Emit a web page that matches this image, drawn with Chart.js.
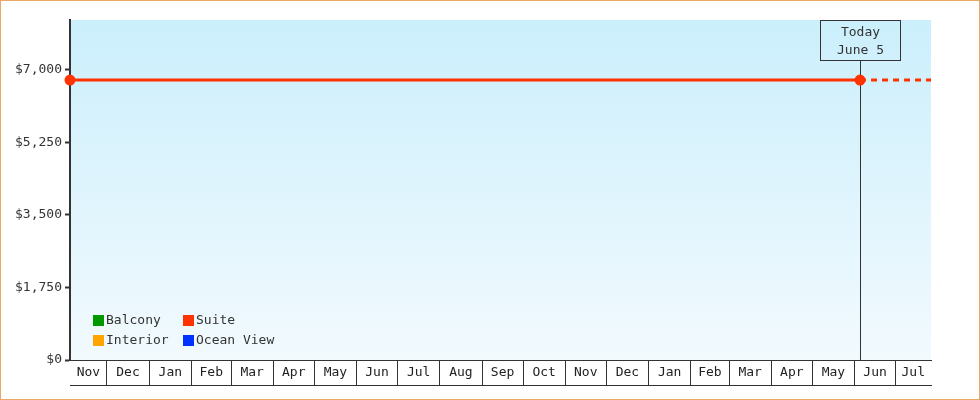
<!DOCTYPE html>
<html>
<head>
<meta charset="utf-8">
<script src="https://cdn.jsdelivr.net/npm/chart.js@4.4.1/dist/chart.umd.min.js"></script>
<style>
html, body { margin: 0; padding: 0; background: #fff; }
#wrap { width: 980px; height: 400px; box-sizing: border-box; border: 1px solid #eba865; }
canvas { display: block; }
</style>
</head>
<body>
<div id="wrap"><canvas id="chart" width="978" height="398"></canvas></div>
<script>
// data
const monthLabels = ['Nov','Dec','Jan','Feb','Mar','Apr','May','Jun','Jul','Aug','Sep','Oct',
                     'Nov','Dec','Jan','Feb','Mar','Apr','May','Jun','Jul']
const rangeStart = '2023-11-04'
const rangeEnd = '2025-07-27'
const todayDate = '2025-06-05'
const todayLines = ['Today', 'June 5']
const seriesNames = ['Balcony', 'Interior', 'Suite', 'Ocean View']
const seriesColors = ['#009900', '#ffa500', '#ff3300', '#0033ff']
const suiteDates = ['2023-11-04', '2025-06-05', '2025-07-27']
const suitePrices = [6750, 6750, 6750]
const yTicks = [0, 1750, 3500, 5250, 7000]
const yMax = 8200

const FONT = "'DejaVu Sans Mono', monospace"
const INK = '#333'

const dayOf = s => (Date.parse(s) - Date.parse(rangeStart)) / 86400000

// first day of every month after the start, one per label
const start = new Date(rangeStart)
const bounds = [0]
for (let i = 1; i < monthLabels.length; i++) {
    const d = new Date(Date.UTC(start.getUTCFullYear(), start.getUTCMonth() + i, 1))
    bounds.push((d - start) / 86400000)
}
bounds.push(dayOf(rangeEnd))

const xTicks = []
for (let i = 0; i < monthLabels.length; i++) {
    if (i > 0) xTicks.push({ value: bounds[i], name: '' })
    xTicks.push({ value: (bounds[i] + bounds[i + 1]) / 2, name: monthLabels[i] })
}

const datasets = seriesNames.map((name, i) => ({
    label: name,
    data: [],
    borderColor: seriesColors[i],
    backgroundColor: seriesColors[i]
}))
const suite = datasets[2]
suite.data = suiteDates.map((d, i) => ({ x: dayOf(d), y: suitePrices[i] }))
suite.borderWidth = 3
suite.pointRadius = [4, 4, 0]
suite.pointHoverRadius = 4
suite.clip = false
suite.segment = { borderDash: c => c.p0DataIndex >= 1 ? [6, 5] : undefined }

const background = {
    id: 'background',
    beforeDraw(chart) {
        const { ctx, chartArea: a } = chart
        const g = ctx.createLinearGradient(0, a.top, 0, a.bottom)
        g.addColorStop(0, '#cbeffc')
        g.addColorStop(1, '#f2fafe')
        ctx.save()
        ctx.fillStyle = g
        ctx.fillRect(a.left, a.top, a.right - a.left, a.bottom - a.top)
        ctx.restore()
    }
}

const todayMarker = {
    id: 'todayMarker',
    beforeDatasetsDraw(chart) {
        const { ctx, chartArea: a } = chart
        const x = Math.round(chart.scales.x.getPixelForValue(dayOf(todayDate))) + 0.5
        const top = a.top + 0.5
        ctx.save()
        ctx.strokeStyle = INK
        ctx.lineWidth = 1
        ctx.strokeRect(x - 40, top, 80, 40)
        ctx.beginPath()
        ctx.moveTo(x, top + 40)
        ctx.lineTo(x, a.bottom)
        ctx.stroke()
        ctx.fillStyle = INK
        ctx.font = '13px ' + FONT
        ctx.textAlign = 'center'
        ctx.textBaseline = 'middle'
        ctx.fillText(todayLines[0], x, top + 12)
        ctx.fillText(todayLines[1], x, top + 30)
        ctx.restore()
    }
}

const boxLegend = {
    id: 'boxLegend',
    afterDraw(chart) {
        const { ctx, chartArea: a } = chart
        ctx.save()
        ctx.font = '13px ' + FONT
        ctx.textBaseline = 'middle'
        chart.data.datasets.forEach((ds, i) => {
            const col = Math.floor(i / 2), row = i % 2
            const x = a.left + 23 + col * 90
            const y = a.bottom - 45 + row * 20
            ctx.fillStyle = ds.borderColor
            ctx.fillRect(x, y, 11, 11)
            ctx.fillStyle = INK
            ctx.fillText(ds.label, x + 13, y + 6)
        })
        ctx.restore()
    }
}

new Chart(document.getElementById('chart'), {
    type: 'line',
    data: { datasets },
    plugins: [background, todayMarker, boxLegend],
    options: {
        responsive: false,
        animation: false,
        devicePixelRatio: 1,
        layout: { padding: { left: 0, top: 19, right: 48, bottom: 13 } },
        plugins: { legend: { display: false }, tooltip: { enabled: false } },
        scales: {
            x: {
                type: 'linear',
                position: 'bottom',
                min: 0,
                max: dayOf(rangeEnd),
                afterBuildTicks: s => { s.ticks = xTicks.map(t => ({ ...t })) },
                afterFit: s => { s.height = 25 },
                ticks: {
                    autoSkip: false,
                    maxRotation: 0,
                    padding: -20,
                    color: '#222',
                    font: { family: FONT, size: 13 },
                    callback: (v, i, t) => t[i].name
                },
                grid: {
                    drawOnChartArea: false,
                    tickLength: 25,
                    color: c => (c.tick && c.tick.name) ? 'rgba(0,0,0,0)' : INK
                },
                border: { color: INK, width: 1 }
            },
            xBottom: {
                type: 'linear',
                position: 'bottom',
                weight: 1,
                afterFit: s => { s.height = 1 },
                ticks: { display: false },
                grid: { drawOnChartArea: false, drawTicks: false, color: 'rgba(0,0,0,0)' },
                border: { color: INK, width: 1 }
            },
            y: {
                min: 0,
                max: yMax,
                afterBuildTicks: s => { s.ticks = yTicks.map(v => ({ value: v })) },
                afterFit: s => { s.width = 69 },
                ticks: {
                    padding: 3,
                    color: INK,
                    font: { family: FONT, size: 13 },
                    callback: v => '$' + v.toLocaleString('en-US')
                },
                grid: {
                    drawOnChartArea: false,
                    tickLength: 5,
                    tickWidth: 2,
                    color: INK
                },
                border: { color: INK, width: 2 }
            }
        }
    }
})
</script>
</body>
</html>
